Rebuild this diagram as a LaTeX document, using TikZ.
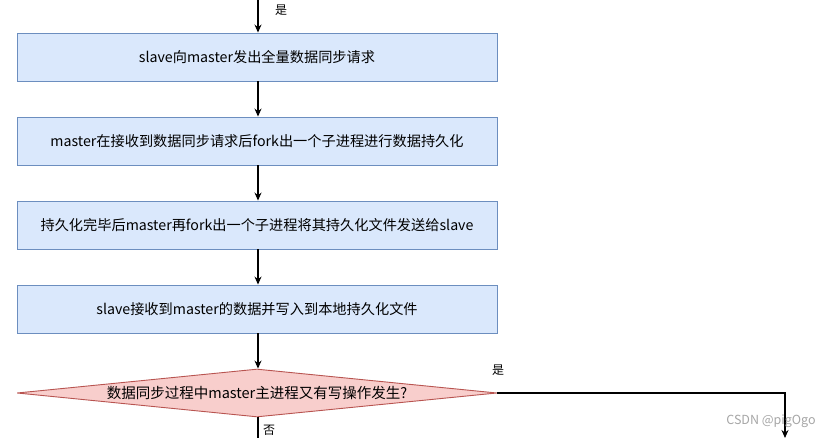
\documentclass[tikz,border=0pt]{standalone}
\usepackage{fontspec}
\setmainfont{Noto Sans CJK SC}
\usetikzlibrary{shapes.geometric,arrows.meta}
\definecolor{boxfill}{HTML}{DAE8FC}
\definecolor{boxline}{HTML}{6C8EBF}
\definecolor{diafill}{HTML}{F8CECC}
\definecolor{dialine}{HTML}{B85450}
\tikzset{
  procbox/.style={draw=boxline, fill=boxfill, line width=0.9pt, minimum width=480pt, minimum height=48pt, inner sep=0pt, font=\fontsize{14.2}{16}\selectfont},
  decbox/.style={draw=dialine, fill=diafill, line width=0.9pt, diamond, minimum width=480pt, minimum height=48pt, inner sep=0pt, aspect=10},
  flow/.style={line width=1.2pt, -{Stealth[length=8pt,width=7pt]}},
  plain/.style={line width=1.2pt},
  lbl/.style={font=\fontsize{12}{14}\selectfont, inner sep=0pt}
}
\begin{document}
\begin{tikzpicture}[x=1pt,y=-1pt]
\useasboundingbox (0,0) rectangle (831,438);
\fill[white] (0,0) rectangle (831,438);
\coordinate (top) at (258,0);
\node[procbox] (b1) at (257,57) {slave向master发出全量数据同步请求};
\node[procbox] (b2) at (257,141) {master在接收到数据同步请求后fork出一个子进程进行数据持久化};
\node[procbox] (b3) at (257,225) {持久化完毕后master再fork出一个子进程将其持久化文件发送给slave};
\node[procbox] (b4) at (257,309) {slave接收到master的数据并写入到本地持久化文件};
\node[decbox] (d) at (257,393) {};
\node[font=\fontsize{14.5}{16}\selectfont, inner sep=0pt] (dt) at (d.center) {数据同步过程中master主进程又有写操作发生?};
\coordinate (r) at (785,438);
\coordinate (bot) at (258,438);
\draw[flow] (top) -- (b1.north -| top);
\draw[flow] (b1.south -| top) -- (b2.north -| top);
\draw[flow] (b2.south -| top) -- (b3.north -| top);
\draw[flow] (b3.south -| top) -- (b4.north -| top);
\draw[flow] (b4.south -| top) -- (d.north -| top);
\draw[flow] (d.east) -| (r);
\draw[plain] (d.south -| top) -- (bot);
\node[lbl] (l1) at (281,10) {是};
\node[lbl] (l2) at (498,370) {是};
\node[lbl] (l3) at (269,430) {否};
\node[font=\fontsize{12.5}{14}\selectfont, text=gray!70, inner sep=0pt] (wm) at (771,421) {CSDN @pigOgo};
\end{tikzpicture}
\end{document}
